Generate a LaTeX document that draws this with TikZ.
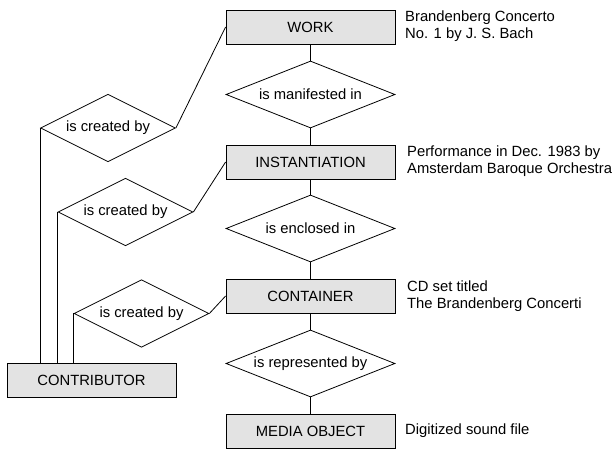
\documentclass[tikz,border=0pt]{standalone}
\usepackage{fontspec}
\setmainfont{Liberation Sans}
\usetikzlibrary{shapes.geometric}
\begin{document}
\begin{tikzpicture}[x=1pt,y=-1pt,
  every node/.style={font=\fontsize{14.8}{17.5}\selectfont},
  entity/.style={draw, line width=0.8pt, fill=black!11, rectangle, minimum width=169pt, minimum height=34pt, inner sep=0pt},
  bigrel/.style={draw, line width=0.8pt, fill=white, diamond, inner sep=0pt, aspect=2.52, minimum width=169pt, minimum height=67pt},
  smallrel/.style={draw, line width=0.8pt, fill=white, diamond, inner sep=0pt, aspect=2.0, minimum width=135pt, minimum height=67.5pt},
  note/.style={anchor=west, align=left, inner sep=0pt},
  conn/.style={line width=0.8pt}]
\useasboundingbox (0,0) rectangle (614,449);
% entities
\node[entity] (work) at (310.5,27) {WORK};
\node[entity] (inst) at (310.5,162) {INSTANTIATION};
\node[entity] (cont) at (310.5,296) {CONTAINER};
\node[entity] (media) at (310.5,431) {MEDIA OBJECT};
\node[entity] (contrib) at (91.5,380) {CONTRIBUTOR};
% relationships
\node[bigrel] (m1) at (310.5,94.5) {is manifested in};
\node[bigrel] (m2) at (310.5,228.5) {is enclosed in};
\node[bigrel] (m3) at (310.5,363.5) {is represented by};
\node[smallrel] (c1) at (108,128) {is created by};
\node[smallrel] (c2) at (125.5,212) {is created by};
\node[smallrel] (c3) at (141.5,313.5) {is created by};
% notes
\node[note] (n1) at (405,26) {Brandenberg Concerto\\No. 1 by J. S. Bach};
\node[note] (n2) at (407,161) {Performance in Dec. 1983 by\\Amsterdam Baroque Orchestra};
\node[note] (n3) at (407,296) {CD set titled\\The Brandenberg Concerti};
\node[note] (n4) at (405,431) {Digitized sound file};
% connectors
\draw[conn] (work.south) -- (m1.north);
\draw[conn] (m1.south) -- (inst.north);
\draw[conn] (inst.south) -- (m2.north);
\draw[conn] (m2.south) -- (cont.north);
\draw[conn] (cont.south) -- (m3.north);
\draw[conn] (m3.south) -- (media.north);
\draw[conn] (c1.east) -- (work.west);
\draw[conn] (c2.east) -- (inst.west);
\draw[conn] (c3.east) -- (cont.west);
\draw[conn] (c1.west) -- (c1.west |- contrib.north);
\draw[conn] (c2.west) -- (c2.west |- contrib.north);
\draw[conn] (c3.west) -- (c3.west |- contrib.north);
\end{tikzpicture}
\end{document}
